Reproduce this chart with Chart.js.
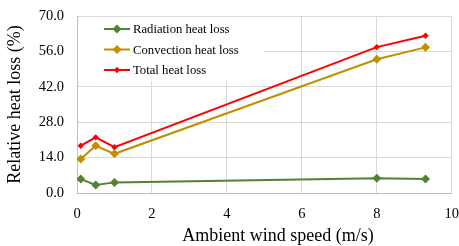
<!DOCTYPE html>
<html>
<head>
<meta charset="utf-8">
<script src="https://cdn.jsdelivr.net/npm/chart.js@4"></script>
<style>
  html, body { margin: 0; padding: 0; background: #fff; }
  #wrap { width: 459px; height: 246px; position: relative; }
</style>
</head>
<body>
<div id="wrap"><canvas id="heatChart"></canvas></div>
<script>
// Wind speed (m/s) on x, relative heat loss (%) on y
const windSpeed = [0.1, 0.5, 1, 8, 9.3];
const radiationLoss = [5.5, 3.2, 4.2, 5.8, 5.5];
const convectionLoss = [13.4, 18.7, 15.5, 52.9, 57.6];
const totalLoss = [18.7, 22.0, 18.1, 57.7, 62.2];
const seriesNames = ['Radiation heat loss', 'Convection heat loss', 'Total heat loss'];
const xTicks = [0, 2, 4, 6, 8, 10];
const yTicks = [0, 14, 28, 42, 56, 70];
const xTitle = 'Ambient wind speed (m/s)';
const yTitle = 'Relative heat loss (%)';

const colors = ['#548235', '#BF9000', '#FF0000'];
const markerSize = [4.5, 4.5, 3.2];
const FONT = '"Liberation Serif", "Times New Roman", serif';

function toPoints(ys) {
    return windSpeed.map((x, i) => ({ x: x, y: ys[i] }));
}

function makeDataset(i, ys) {
    return {
        label: seriesNames[i],
        data: toPoints(ys),
        borderColor: colors[i],
        backgroundColor: colors[i],
        borderWidth: 2,
        pointStyle: 'rectRot',
        pointRadius: markerSize[i],
        pointBorderWidth: 0,
        tension: 0
    };
}

// Legend drawn inside the plot area on a white box, plus the x title
const insideLegend = {
    id: 'insideLegend',
    beforeDatasetsDraw(chart) {
        const ctx = chart.ctx;
        const area = chart.chartArea;
        ctx.save();
        ctx.fillStyle = '#fff';
        ctx.fillRect(area.left + 1, area.top + 1, 186, 64);
        ctx.restore();
    },
    afterDatasetsDraw(chart) {
        const ctx = chart.ctx;
        const area = chart.chartArea;
        ctx.save();
        ctx.font = '12.7px ' + FONT;
        ctx.textBaseline = 'middle';
        seriesNames.forEach((name, i) => {
            const y = area.top + 13 + i * 20.5;
            const x0 = area.left + 27;
            ctx.strokeStyle = colors[i];
            ctx.lineWidth = 2;
            ctx.beginPath();
            ctx.moveTo(x0, y);
            ctx.lineTo(x0 + 26, y);
            ctx.stroke();
            const r = markerSize[i];
            ctx.fillStyle = colors[i];
            ctx.beginPath();
            ctx.moveTo(x0 + 13, y - r);
            ctx.lineTo(x0 + 13 + r, y);
            ctx.lineTo(x0 + 13, y + r);
            ctx.lineTo(x0 + 13 - r, y);
            ctx.closePath();
            ctx.fill();
            ctx.fillStyle = '#000';
            ctx.fillText(name, x0 + 29, y + 1);
        });
        // x axis title, sits a bit right of the plot centre
        ctx.font = '18px ' + FONT;
        ctx.textAlign = 'center';
        ctx.fillText(xTitle, 278, 236);
        ctx.restore();
    }
};

new Chart(document.getElementById('heatChart'), {
    type: 'line',
    data: {
        datasets: [
            makeDataset(0, radiationLoss),
            makeDataset(1, convectionLoss),
            makeDataset(2, totalLoss)
        ]
    },
    options: {
        responsive: true,
        maintainAspectRatio: false,
        animation: false,
        layout: { padding: { top: 16, right: 0, left: 0, bottom: 0 } },
        plugins: {
            legend: { display: false },
            tooltip: { enabled: false }
        },
        scales: {
            x: {
                type: 'linear',
                min: 0,
                max: 10,
                afterBuildTicks: s => { s.ticks = xTicks.map(v => ({ value: v })); },
                afterFit: s => { s.height = 53; },
                grid: { color: '#d9d9d9', drawTicks: true, tickLength: 12, tickColor: 'rgba(0,0,0,0)' },
                border: { color: '#bfbfbf' },
                ticks: {
                    padding: 0,
                    color: '#000',
                    font: { family: FONT, size: 14.5 }
                }
            },
            y: {
                min: 0,
                max: 70,
                afterBuildTicks: s => { s.ticks = yTicks.map(v => ({ value: v })); },
                afterFit: s => { s.width = 77; },
                grid: { color: '#d9d9d9', drawTicks: true, tickLength: 13, tickColor: 'rgba(0,0,0,0)' },
                border: { color: '#bfbfbf' },
                ticks: {
                    padding: 0,
                    color: '#000',
                    font: { family: FONT, size: 14.5 },
                    callback: v => v.toFixed(1)
                },
                title: {
                    display: true,
                    text: yTitle,
                    color: '#000',
                    font: { family: FONT, size: 18 },
                    padding: { bottom: 1 }
                }
            }
        }
    },
    plugins: [insideLegend]
});
</script>
</body>
</html>
